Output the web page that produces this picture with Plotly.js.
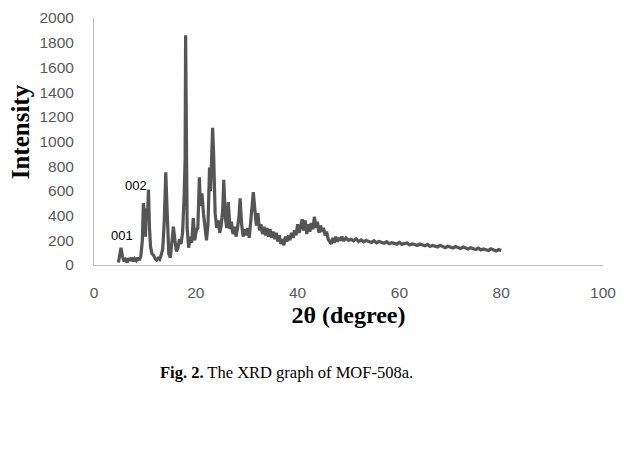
<!DOCTYPE html>
<html>
<head>
<meta charset="utf-8">
<script src="https://cdn.plot.ly/plotly-3.0.1.min.js"></script>
<style>html,body{margin:0;padding:0;background:#fff;}#chart{width:624px;height:452px;}</style>
</head>
<body>
<div id="chart"></div>
<script>
const twoTheta = [4.8,5.0,5.3,5.6,5.9,6.2,6.5,6.8,7.1,7.4,7.7,8.0,8.3,8.6,8.9,9.2,9.5,9.7,9.9,10.1,10.3,10.5,10.7,10.9,11.1,11.4,11.7,12.0,12.3,12.6,12.9,13.2,13.5,13.8,14.1,14.4,14.7,15.0,15.3,15.6,15.9,16.2,16.5,16.8,17.1,17.4,17.7,17.9,18.0,18.1,18.3,18.6,18.9,19.2,19.5,19.8,20.1,20.4,20.7,20.9,21.2,21.5,21.8,22.1,22.4,22.7,22.9,23.1,23.3,23.5,23.8,24.1,24.4,24.7,25.0,25.3,25.5,25.8,26.1,26.4,26.7,27.0,27.3,27.6,27.9,28.2,28.5,28.7,29.0,29.3,29.6,29.9,30.2,30.5,30.8,31.1,31.3,31.6,31.9,32.2,32.5,32.8,33.1,33.4,33.7,34.0,34.3,34.6,34.9,35.2,35.5,35.8,36.1,36.4,36.7,37.0,37.3,37.6,37.9,38.2,38.5,38.8,39.1,39.4,39.7,40.0,40.3,40.6,40.9,41.2,41.5,41.8,42.1,42.4,42.7,43.0,43.3,43.6,43.9,44.2,44.5,44.8,45.1,45.4,45.7,46.0,46.3,46.6,46.9,47.2,47.5,47.8,48.1,48.4,48.7,49.0,49.5,50.0,50.5,51.0,51.5,52.0,52.5,53.0,53.5,54.0,54.5,55.0,55.5,56.0,56.5,57.0,57.5,58.0,58.5,59.0,59.5,60.0,60.5,61.0,61.5,62.0,62.5,63.0,63.5,64.0,64.5,65.0,65.5,66.0,66.5,67.0,67.5,68.0,68.5,69.0,69.5,70.0,70.5,71.0,71.5,72.0,72.5,73.0,73.5,74.0,74.5,75.0,75.5,76.0,76.5,77.0,77.5,78.0,78.5,79.0,79.5,80.0];
const intensity = [20,60,140,70,30,45,20,55,35,60,30,50,35,60,40,70,200,500,420,230,460,380,610,300,150,90,80,50,40,55,45,80,130,350,750,400,90,60,180,310,200,110,140,210,170,260,550,850,1860,900,300,140,230,180,380,200,280,300,710,480,580,420,300,200,330,790,600,950,1110,900,420,300,360,260,320,460,690,380,300,510,290,350,250,310,230,300,400,540,330,230,290,240,300,220,380,520,590,450,320,420,280,330,250,310,240,300,230,290,220,270,210,260,190,240,170,210,160,230,190,240,200,260,220,280,240,330,260,310,370,280,360,250,330,270,340,290,390,300,350,260,320,270,300,240,270,210,190,170,220,180,230,190,220,200,230,195,220,200,208,196,212,190,203,188,199,194,183,196,180,190,184,176,189,172,181,176,169,183,167,174,178,162,171,166,158,170,161,155,166,150,158,154,145,160,148,141,152,146,137,149,140,133,145,136,129,140,131,126,136,122,130,127,118,131,120,114,125,117,110,121,112,106,118,104,109,112,99,106];
const xTicks = [0,20,40,60,80,100];
const yTicks = [0,200,400,600,800,1000,1200,1400,1600,1800,2000];
const peakLabels = ["001","002"];
const peakLabelX = [5.5,8.3];
const peakLabelY = [235,640];

const tickFont = {family:"Liberation Sans, Arial, sans-serif", size:15.5, color:"#595959"};
const serif = "Liberation Serif, Times New Roman, serif";
const annotations = peakLabels.map((t,i)=>({
  x: peakLabelX[i], y: peakLabelY[i], xref:"x", yref:"y", text:t, showarrow:false,
  font:{family:"Liberation Sans, Arial, sans-serif", size:13, color:"#000"}
}));
annotations.push({
  x:-0.145, y:0.538, xref:"paper", yref:"paper", xanchor:"center", yanchor:"middle",
  text:"<b>Intensity</b>", textangle:-90, showarrow:false,
  font:{family:serif, size:25, color:"#000"}
});
annotations.push({
  x:0.379, y:-0.435, xref:"paper", yref:"paper", xanchor:"center", yanchor:"middle",
  text:"<b>Fig. 2.</b> The XRD graph of MOF-508a.", showarrow:false,
  font:{family:serif, size:16.5, color:"#000"}
});

Plotly.newPlot("chart", [{
  x: twoTheta, y: intensity, type:"scatter", mode:"lines",
  line:{color:"#555555", width:3.2}, showlegend:false
}], {
  width:624, height:452,
  margin:{l:94, r:21, t:18, b:187},
  paper_bgcolor:"#fff", plot_bgcolor:"#fff",
  xaxis:{range:[0,100], tickvals:xTicks, ticktext:xTicks.map(String), showgrid:false, zeroline:false,
    showline:true, linecolor:"#bfbfbf", linewidth:1, ticks:"outside", ticklen:13, tickcolor:"rgba(0,0,0,0)",
    tickfont:tickFont,
    title:{text:"<b>2θ (degree)</b>", standoff:6, font:{family:serif, size:24, color:"#000"}}},
  yaxis:{range:[0,2000], tickvals:yTicks, ticktext:yTicks.map(String), showgrid:false, zeroline:false,
    showline:true, linecolor:"#bfbfbf", linewidth:1, ticks:"outside", ticklen:16, tickcolor:"rgba(0,0,0,0)",
    tickfont:tickFont},
  annotations: annotations
}, {displayModeBar:false, staticPlot:true});
</script>
</body>
</html>
